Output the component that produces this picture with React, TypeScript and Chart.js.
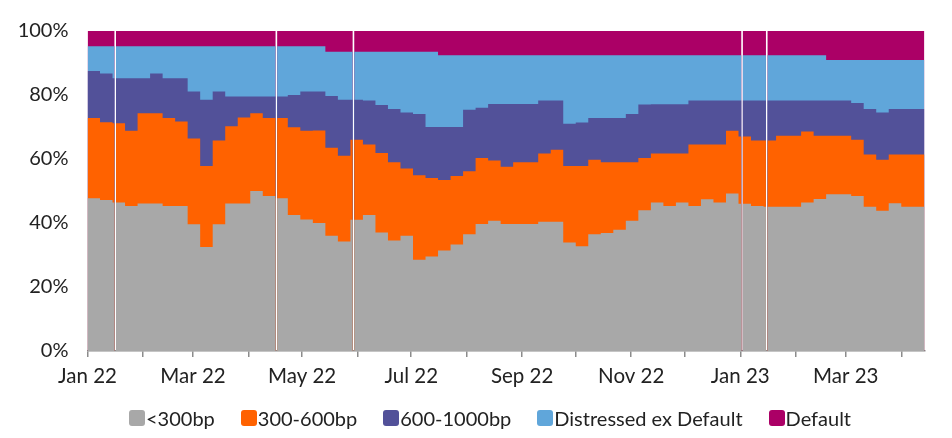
import React, { useEffect, useRef } from 'react';
import { Chart, registerables } from 'chart.js';

Chart.register(...registerables);

const categories = ['<300bp', '300-600bp', '600-1000bp', 'Distressed ex Default', 'Default'];
const colors = ['#A8A8A8', '#FF6200', '#525199', '#60A6DA', '#AB0066'];

// week start, days since 1 Jan 2022
const weekDays = [0, 7, 14, 21, 28, 35, 42, 49, 56, 63, 70, 77, 84, 91, 98, 105, 112, 119, 126, 133, 140, 147, 154, 161, 168, 175, 182, 189, 196, 203, 210, 217, 224, 231, 238, 245, 252, 259, 266, 273, 280, 287, 294, 301, 308, 315, 322, 329, 336, 343, 350, 357, 364, 371, 378, 385, 392, 399, 406, 413, 420, 427, 434, 441, 448, 455, 462];
const endDay = 468;
// days without data (holidays)
const gapDays = [15.5, 105.6, 148.7, 366, 379.8];

const under300 = [47.7, 47.2, 46.4, 45.3, 46.1, 46.1, 45.3, 45.3, 39.6, 32.5, 39.6, 46.1, 46.1, 50.0, 48.4, 47.7, 42.5, 41.1, 40.0, 36.0, 34.2, 41.0, 42.5, 37.0, 34.5, 36.0, 28.5, 29.5, 31.4, 33.3, 36.5, 39.7, 40.7, 39.7, 39.7, 39.7, 40.4, 40.4, 33.9, 32.7, 36.5, 36.9, 37.9, 40.7, 44.0, 46.4, 45.3, 46.4, 45.3, 47.4, 46.4, 49.2, 46.0, 45.3, 45.1, 45.1, 45.1, 46.4, 47.5, 49.0, 49.0, 48.4, 45.1, 43.8, 46.2, 45.1, 45.1];
const bp300to600 = [25.1, 24.3, 24.8, 23.5, 28.2, 28.2, 27.5, 26.4, 26.8, 25.3, 26.2, 24.1, 26.9, 24.3, 24.4, 25.1, 27.4, 27.7, 28.9, 27.5, 26.8, 25.0, 22.0, 24.9, 24.5, 21.0, 26.4, 24.6, 22.0, 21.4, 19.7, 20.6, 18.8, 17.9, 19.3, 19.3, 21.3, 22.5, 23.9, 25.1, 23.3, 22.1, 21.1, 18.3, 16.3, 15.3, 16.4, 15.3, 19.2, 17.1, 18.1, 19.6, 21.0, 20.5, 20.7, 22.2, 22.2, 22.2, 19.8, 18.3, 18.3, 17.6, 16.3, 16.0, 15.2, 16.3, 16.3];
const bp600to1000 = [14.7, 15.2, 14.0, 16.4, 10.9, 12.4, 12.4, 13.5, 14.7, 20.7, 15.3, 9.3, 6.5, 5.2, 6.7, 6.7, 10.1, 12.3, 12.2, 16.2, 17.5, 12.5, 13.8, 15.0, 16.6, 17.5, 19.2, 15.9, 16.6, 15.3, 19.2, 15.7, 17.7, 19.6, 18.2, 18.2, 16.6, 15.4, 13.2, 13.6, 13.0, 13.8, 13.8, 15.1, 16.7, 15.4, 15.4, 15.4, 13.8, 13.8, 13.8, 9.5, 11.3, 12.5, 12.5, 11.0, 11.0, 9.7, 11.0, 11.0, 11.0, 11.5, 14.2, 14.7, 14.2, 14.2, 14.2];
const distressed = [7.7, 8.5, 10.0, 10.0, 10.0, 8.5, 10.0, 10.0, 14.1, 16.7, 14.1, 15.7, 15.7, 15.7, 15.7, 15.7, 15.2, 14.1, 14.1, 13.8, 15.0, 15.0, 15.2, 16.6, 17.9, 19.0, 19.4, 23.5, 22.4, 22.4, 17.0, 16.4, 15.2, 15.2, 15.2, 15.2, 14.1, 14.1, 21.4, 21.0, 19.6, 19.6, 19.6, 18.3, 15.4, 15.3, 15.3, 15.3, 14.1, 14.1, 14.1, 14.1, 14.1, 14.1, 14.1, 14.1, 14.1, 14.1, 14.1, 12.6, 12.6, 13.4, 15.3, 16.4, 15.3, 15.3, 15.3];
const defaulted = [4.8, 4.8, 4.8, 4.8, 4.8, 4.8, 4.8, 4.8, 4.8, 4.8, 4.8, 4.8, 4.8, 4.8, 4.8, 4.8, 4.8, 4.8, 4.8, 6.5, 6.5, 6.5, 6.5, 6.5, 6.5, 6.5, 6.5, 6.5, 7.6, 7.6, 7.6, 7.6, 7.6, 7.6, 7.6, 7.6, 7.6, 7.6, 7.6, 7.6, 7.6, 7.6, 7.6, 7.6, 7.6, 7.6, 7.6, 7.6, 7.6, 7.6, 7.6, 7.6, 7.6, 7.6, 7.6, 7.6, 7.6, 7.6, 7.6, 9.1, 9.1, 9.1, 9.1, 9.1, 9.1, 9.1, 9.1];

const monthTicks = [0, 31, 59, 90, 120, 151, 181, 212, 243, 273, 304, 334, 365, 396, 424, 455];
const monthLabels = ['Jan 22', '', 'Mar 22', '', 'May 22', '', 'Jul 22', '', 'Sep 22', '', 'Nov 22', '', 'Jan 23', '', 'Mar 23', ''];
const yTicks = [0, 20, 40, 60, 80, 100];

const seriesValues = [under300, bp300to600, bp600to1000, distressed, defaulted];

function buildPoints(values: number[]) {
  const pts: { x: number; y: number }[] = [];
  weekDays.forEach((d, i) => pts.push({ x: d, y: values[i] }));
  pts.push({ x: endDay, y: values[values.length - 1] });
  gapDays.forEach((g) => {
    let idx = 0;
    for (let i = 0; i < weekDays.length; i++) if (weekDays[i] <= g) idx = i;
    pts.push({ x: g - 0.45, y: 0 });
    pts.push({ x: g + 0.45, y: values[idx] });
  });
  pts.sort((a, b) => a.x - b.x);
  return pts;
}

const FONT = "Lato, 'Open Sans', sans-serif";

export default function App() {
  const ref = useRef<HTMLCanvasElement>(null);

  useEffect(() => {
    document.body.style.margin = '0';
    if (!ref.current) return;
    Chart.defaults.font.family = FONT;
    const chart = new Chart(ref.current, {
      type: 'line',
      data: {
        datasets: categories.map((name, j) => ({
          label: name,
          data: buildPoints(seriesValues[j]),
          backgroundColor: colors[j],
          borderColor: colors[j],
          borderWidth: 0,
          pointRadius: 0,
          stepped: true,
          fill: 'origin',
        })),
      },
      options: {
        animation: false,
        responsive: false,
        devicePixelRatio: 1,
        layout: { padding: { left: 0, right: 27.5, top: 29, bottom: 47 } },
        plugins: { legend: { display: false }, tooltip: { enabled: false } },
        scales: {
          x: {
            type: 'linear',
            min: 0,
            max: endDay,
            afterBuildTicks: (scale: any) => {
              scale.ticks = monthTicks.map((v) => ({ value: v }));
            },
            afterFit: (scale: any) => {
              scale.height = 40;
            },
            ticks: {
              autoSkip: false,
              maxRotation: 0,
              padding: 7,
              color: '#222',
              font: { size: 20.5, family: FONT },
              callback: (_v: any, i: number) => monthLabels[i] ?? '',
            },
            grid: { display: true, drawOnChartArea: false, drawTicks: true, tickLength: 6, color: '#8c8c8c', lineWidth: 1.5 },
            border: { display: true, color: '#8c8c8c', width: 1.5 },
          },
          y: {
            stacked: true,
            min: 0,
            max: 100,
            afterBuildTicks: (scale: any) => {
              scale.ticks = yTicks.map((v) => ({ value: v }));
            },
            afterFit: (scale: any) => {
              scale.width = 87.5;
            },
            ticks: {
              padding: 19,
              color: '#222',
              font: { size: 20, family: FONT },
              callback: (v: any) => v + '%',
            },
            grid: { display: false, drawTicks: false },
            border: { display: false },
          },
        },
      },
    } as any);
    return () => chart.destroy();
  }, []);

  return (
    <div style={{ position: 'relative', width: 952, height: 438, background: '#fff' }}>
      <canvas ref={ref} width={952} height={438} style={{ position: 'absolute', left: 0, top: 0, width: 952, height: 438 }} />
      <div
        style={{
          position: 'absolute',
          left: 129,
          top: 406,
          display: 'flex',
          alignItems: 'center',
          gap: 26,
          fontFamily: FONT,
          fontSize: 20,
          lineHeight: '24px',
          color: '#222',
          whiteSpace: 'nowrap',
        }}
      >
        {categories.map((name, j) => (
          <div key={name} style={{ display: 'flex', alignItems: 'center' }}>
            <span style={{ display: 'inline-block', width: 16, height: 16, borderRadius: 3, background: colors[j], marginRight: 1 }} />
            <span>{name}</span>
          </div>
        ))}
      </div>
    </div>
  );
}
